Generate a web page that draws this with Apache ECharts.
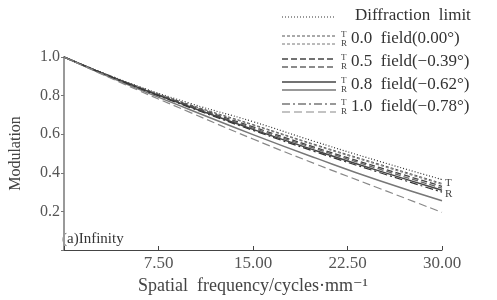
<!DOCTYPE html>
<html>
<head>
<meta charset="utf-8">
<script src="https://cdn.jsdelivr.net/npm/echarts@6/dist/echarts.min.js"></script>
<style>
  html, body { margin: 0; padding: 0; background: #fff; }
  #chart { width: 497px; height: 300px; }
</style>
</head>
<body>
<div id="chart"></div>
<script>
// spatial frequency (cycles/mm)
var freq = [0, 5, 10, 15, 20, 25, 30];
var xTicks = ['7.50', '15.00', '22.50', '30.00'];
var yTicks = ['0.2', '0.4', '0.6', '0.8', '1.0'];

// MTF values
var diffLimit = [1.0, 0.870, 0.760, 0.665, 0.560, 0.460, 0.365];
var f00T = [1.0, 0.868, 0.753, 0.650, 0.545, 0.445, 0.345];
var f00R = [1.0, 0.867, 0.751, 0.647, 0.541, 0.440, 0.340];
var f05T = [1.0, 0.866, 0.748, 0.638, 0.530, 0.428, 0.330];
var f05R = [1.0, 0.865, 0.745, 0.632, 0.524, 0.420, 0.320];
var f08T = [1.0, 0.864, 0.742, 0.625, 0.515, 0.410, 0.310];
var f08R = [1.0, 0.858, 0.727, 0.598, 0.476, 0.360, 0.255];
var f10T = [1.0, 0.863, 0.738, 0.620, 0.508, 0.402, 0.300];
var f10R = [1.0, 0.853, 0.713, 0.575, 0.445, 0.320, 0.195];

var legendNames = ['Diffraction  limit', '0.0  field(0.00°)', '0.5  field(−0.39°)', '0.8  field(−0.62°)', '1.0  field(−0.78°)'];

var font = '"Liberation Serif", "DejaVu Serif", serif';

function pairs(ys) {
  return ys.map(function (y, i) { return [freq[i], y]; });
}

function line(name, ys, s) {
  return {
    name: name,
    type: 'line',
    data: pairs(ys),
    smooth: true,
    symbol: 'none',
    silent: true,
    lineStyle: { color: s.color, width: s.width, type: s.type }
  };
}

var styles = {
  dl: { color: '#333', width: 1.2, type: [1, 2] },
  f00T: { color: '#555', width: 1, type: [3, 2] },
  f00R: { color: '#777', width: 1, type: [3, 2] },
  f05T: { color: '#444', width: 1.3, type: [6, 3] },
  f05R: { color: '#666', width: 1.3, type: [6, 3] },
  f08T: { color: '#444', width: 1.5, type: 'solid' },
  f08R: { color: '#777', width: 1.5, type: 'solid' },
  f10T: { color: '#333', width: 1.2, type: [8, 3, 2, 3] },
  f10R: { color: '#888', width: 1.2, type: [8, 4] }
};

var chart = echarts.init(document.getElementById('chart'));

// hand-drawn legend (paired T/R lines per field)
var legendRows = [17, 40, 63, 86, 108];
var legendItems = [['dl'], ['f00T', 'f00R'], ['f05T', 'f05R'], ['f08T', 'f08R'], ['f10T', 'f10R']];
var graphics = [];
legendItems.forEach(function (keys, i) {
  var y = legendRows[i];
  keys.forEach(function (k, j) {
    var ly = keys.length === 1 ? y : (j === 0 ? y - 4 : y + 4);
    var s = styles[k];
    graphics.push({
      type: 'line',
      shape: { x1: 282, y1: ly, x2: 336, y2: ly },
      style: { stroke: s.color, lineWidth: s.width, lineDash: s.type === 'solid' ? null : s.type }
    });
  });
  if (keys.length === 2) {
    graphics.push({ type: 'text', left: 341, top: y - 10, style: { text: 'T', font: '9px ' + font, fill: '#444' } });
    graphics.push({ type: 'text', left: 341, top: y - 1, style: { text: 'R', font: '9px ' + font, fill: '#444' } });
  }
  graphics.push({
    type: 'text', left: i === 0 ? 355 : 351, top: y - 10,
    style: { text: legendNames[i], font: '17px ' + font, fill: '#333' }
  });
});
// curve end tags and panel caption
graphics.push({ type: 'text', left: 445, top: 178, style: { text: 'T', font: '11px ' + font, fill: '#444' } });
graphics.push({ type: 'text', left: 445, top: 189, style: { text: 'R', font: '11px ' + font, fill: '#444' } });
graphics.push({ type: 'text', left: 62, top: 232, style: { text: '(a)Infinity', font: '15px ' + font, fill: '#333' } });

var option = {
  animation: false,
  backgroundColor: '#fff',
  grid: { left: 58, right: 55, top: 57, bottom: 46, containLabel: false },
  xAxis: {
    type: 'value',
    min: 0, max: 30, interval: 7.5,
    name: 'Spatial  frequency/cycles·mm⁻¹',
    nameLocation: 'middle',
    nameGap: 27,
    nameTextStyle: { fontFamily: font, fontSize: 18, color: '#444' },
    splitLine: { show: false },
    axisLine: { lineStyle: { color: '#444', width: 1 } },
    axisTick: { inside: true, length: 4, lineStyle: { color: '#444' } },
    axisLabel: {
      fontFamily: font, fontSize: 17, color: '#555', margin: 5,
      formatter: function (v) { return v === 0 ? '' : xTicks[Math.round(v / 7.5) - 1]; }
    }
  },
  yAxis: {
    type: 'value',
    min: 0, max: 1, interval: 0.2,
    name: 'Modulation',
    nameLocation: 'middle',
    nameGap: 40,
    nameTextStyle: { fontFamily: font, fontSize: 16, color: '#444' },
    splitLine: { show: false },
    axisLine: { show: true, lineStyle: { color: '#999', width: 2 } },
    axisTick: { show: true, length: 3, lineStyle: { color: '#777' } },
    axisLabel: {
      fontFamily: font, fontSize: 16, color: '#555', margin: 4,
      formatter: function (v) { return v === 0 ? '' : yTicks[Math.round(v / 0.2) - 1]; }
    }
  },
  graphic: graphics,
  series: [
    line('Diffraction limit', diffLimit, styles.dl),
    line('0.0 T', f00T, styles.f00T),
    line('0.0 R', f00R, styles.f00R),
    line('0.5 T', f05T, styles.f05T),
    line('0.5 R', f05R, styles.f05R),
    line('0.8 T', f08T, styles.f08T),
    line('0.8 R', f08R, styles.f08R),
    line('1.0 T', f10T, styles.f10T),
    line('1.0 R', f10R, styles.f10R)
  ]
};

chart.setOption(option);
</script>
</body>
</html>
